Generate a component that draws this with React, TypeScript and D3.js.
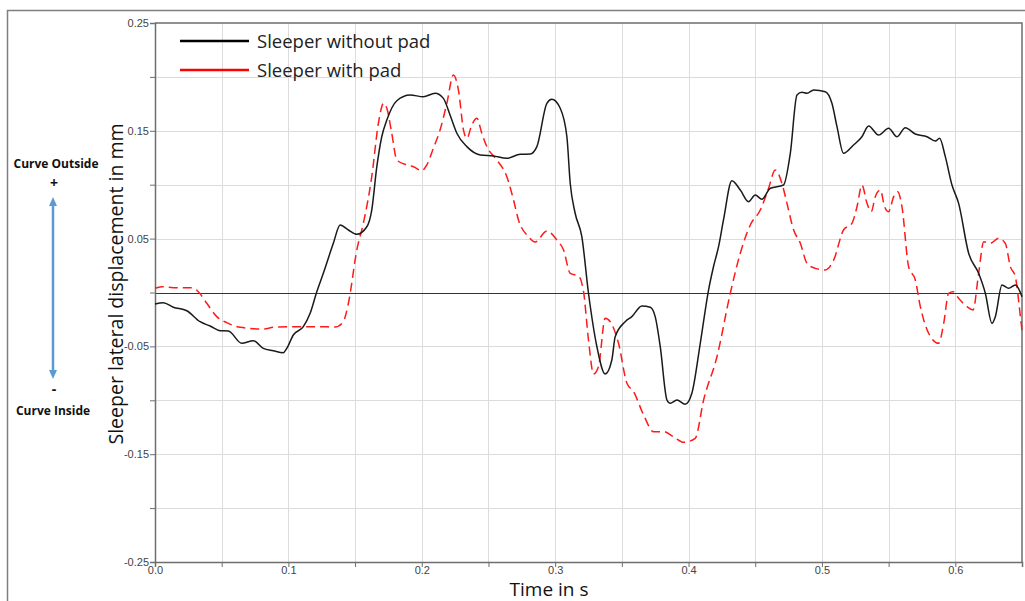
import React, { useEffect, useRef } from "react";
import * as d3 from "d3";

const width = 1025;
const height = 601;
const margin = { top: 23, right: 3, bottom: 39, left: 155 };

// time in s
const timeWithout = [
  0, 0.0062, 0.0137, 0.0238, 0.0338, 0.0413, 0.0488, 0.055, 0.065, 0.0737, 0.0812, 0.0887, 0.0962, 0.0988,
  0.1037, 0.1112, 0.1163, 0.1213, 0.1262, 0.1337, 0.1388, 0.145, 0.1513, 0.1588, 0.1625, 0.1663, 0.17,
  0.1738, 0.1813, 0.1913, 0.2012, 0.21, 0.2162, 0.2212, 0.2263, 0.2338, 0.2438, 0.2537, 0.2638, 0.2738,
  0.2813, 0.2863, 0.2938, 0.2975, 0.3038, 0.3088, 0.3113, 0.315, 0.32, 0.325, 0.3313, 0.3375, 0.3425,
  0.345, 0.3525, 0.3575, 0.365, 0.3713, 0.375, 0.3788, 0.3838, 0.3863, 0.3913, 0.3975, 0.4025, 0.4088,
  0.415, 0.4187, 0.4225, 0.4262, 0.4325, 0.4388, 0.445, 0.45, 0.455, 0.4613, 0.4712, 0.4763, 0.4813,
  0.485, 0.4888, 0.4938, 0.5025, 0.5075, 0.5113, 0.5162, 0.5237, 0.53, 0.535, 0.5425, 0.55, 0.5563,
  0.5625, 0.57, 0.5788, 0.585, 0.5882, 0.5925, 0.5975, 0.6025, 0.61, 0.6175, 0.6225, 0.6275, 0.63,
  0.635, 0.64, 0.645, 0.65,
];
// displacement in mm
const sleeperWithout = [
  -0.0107, -0.0095, -0.0137, -0.0169, -0.0271, -0.0311, -0.0354, -0.0357, -0.0471, -0.0447, -0.0518,
  -0.054, -0.0558, -0.0518, -0.0394, -0.0317, -0.0193, 0.0007, 0.0178, 0.0456, 0.0626, 0.058, 0.054,
  0.061, 0.0765, 0.1167, 0.1445, 0.16, 0.1779, 0.1832, 0.1816, 0.1848, 0.1801, 0.1647, 0.1477, 0.1353,
  0.1276, 0.1266, 0.1245, 0.1282, 0.1285, 0.1353, 0.1755, 0.1792, 0.1709, 0.1445, 0.1013, 0.0735,
  0.0518, -0.0007, -0.0503, -0.0756, -0.0626, -0.041, -0.0271, -0.0224, -0.0125, -0.0137, -0.0224,
  -0.0503, -0.0997, -0.1028, -0.0997, -0.1037, -0.0935, -0.0471, 0.0023, 0.0239, 0.0425, 0.0673,
  0.1037, 0.0951, 0.0842, 0.0904, 0.0865, 0.0967, 0.0997, 0.1291, 0.1832, 0.1857, 0.1848, 0.1879,
  0.1863, 0.1755, 0.1538, 0.1291, 0.1368, 0.1445, 0.1545, 0.1461, 0.1523, 0.1445, 0.1529, 0.147,
  0.1445, 0.1405, 0.143, 0.126, 0.0997, 0.0827, 0.0364, 0.0178, -0.0007, -0.0286, -0.0224, 0.007,
  0.0039, 0.007, -0.0039,
];

const timeWith = [
  0, 0.005, 0.0137, 0.0275, 0.0325, 0.0388, 0.0463, 0.0538, 0.0638, 0.0812, 0.0887, 0.1037, 0.1237,
  0.135, 0.141, 0.145, 0.1513, 0.1562, 0.1625, 0.1675, 0.1713, 0.1738, 0.1775, 0.1813, 0.1888, 0.1938,
  0.2, 0.2038, 0.2087, 0.2137, 0.2188, 0.2237, 0.2275, 0.2313, 0.2338, 0.2375, 0.2413, 0.245, 0.2488,
  0.2563, 0.2638, 0.2688, 0.2725, 0.28, 0.285, 0.2938, 0.3013, 0.3063, 0.3113, 0.3175, 0.3213, 0.325,
  0.3288, 0.3325, 0.3375, 0.3413, 0.3475, 0.3538, 0.3588, 0.3663, 0.3738, 0.3813, 0.3888, 0.3963,
  0.405, 0.4113, 0.4213, 0.4313, 0.4388, 0.4463, 0.4538, 0.46, 0.465, 0.47, 0.4738, 0.4788, 0.4838,
  0.4888, 0.495, 0.5025, 0.5088, 0.5162, 0.5225, 0.5263, 0.53, 0.5338, 0.537, 0.54, 0.5438, 0.547,
  0.55, 0.5538, 0.5568, 0.56, 0.565, 0.57, 0.5738, 0.58, 0.5875, 0.5913, 0.595, 0.5983, 0.6025,
  0.6088, 0.6133, 0.6175, 0.6213, 0.6263, 0.6325, 0.6375, 0.6413, 0.645, 0.6488, 0.65,
];
const sleeperWith = [
  0.0039, 0.0054, 0.0045, 0.0045, 0.0007, -0.01, -0.0224, -0.028, -0.0323, -0.0339, -0.0323, -0.0317,
  -0.0317, -0.032, -0.0274, -0.01, 0.0394, 0.0642, 0.1074, 0.157, 0.1755, 0.1709, 0.1477, 0.1229,
  0.1183, 0.1167, 0.113, 0.1183, 0.1338, 0.1507, 0.1755, 0.2018, 0.1878, 0.1507, 0.143, 0.1554, 0.1616,
  0.1477, 0.1353, 0.1229, 0.1074, 0.0858, 0.0673, 0.0518, 0.0468, 0.057, 0.0487, 0.0394, 0.0178,
  0.0153, 0.0007, -0.0441, -0.0756, -0.0688, -0.0239, -0.0271, -0.0471, -0.0842, -0.092, -0.1136,
  -0.1291, -0.1291, -0.1338, -0.139, -0.1353, -0.0997, -0.0596, -0.0007, 0.0364, 0.0626, 0.0765,
  0.0967, 0.1137, 0.1013, 0.0827, 0.058, 0.0456, 0.0271, 0.0224, 0.0209, 0.0301, 0.058, 0.0642,
  0.0796, 0.0997, 0.0827, 0.075, 0.0889, 0.0951, 0.0796, 0.075, 0.0889, 0.0935, 0.0796, 0.0239,
  0.0116, -0.0132, -0.0378, -0.0471, -0.0286, -0.0007, 0.0007, -0.0054, -0.0132, -0.0162, 0.0178,
  0.0471, 0.0456, 0.0503, 0.0456, 0.0239, 0.0147, -0.0224, -0.035,
];

const yTicks = [0.25, 0.2, 0.15, 0.1, 0.05, 0, -0.05, -0.1, -0.15, -0.2, -0.25];
const yLabelled = [0.25, 0.15, 0.05, -0.05, -0.15, -0.25];
const xTicks = [0, 0.05, 0.1, 0.15, 0.2, 0.25, 0.3, 0.35, 0.4, 0.45, 0.5, 0.55, 0.6];
const xLabelled = [0, 0.1, 0.2, 0.3, 0.4, 0.5, 0.6];

const seriesNames = ["Sleeper without pad", "Sleeper with pad"];

function App() {
  const ref = useRef<SVGSVGElement | null>(null);

  useEffect(() => {
    const svg = d3.select(ref.current);
    svg.selectAll("*").remove();

    const x = d3.scaleLinear().domain([0, 0.65]).range([margin.left, width - margin.right]);
    const y = d3.scaleLinear().domain([-0.25, 0.25]).range([height - margin.bottom, margin.top]);

    // outer frame
    svg.append("rect")
      .attr("x", 7.5).attr("y", 10.5)
      .attr("width", 1030).attr("height", 600)
      .attr("fill", "none").attr("stroke", "#7f7f7f").attr("stroke-width", 1.5);

    // grid
    const grid = svg.append("g").attr("stroke", "#dcdcdc").attr("stroke-width", 1);
    grid.selectAll(".gx").data(xTicks.slice(1)).enter().append("line")
      .attr("x1", d => Math.round(x(d)) + 0.5).attr("x2", d => Math.round(x(d)) + 0.5)
      .attr("y1", y(0.25)).attr("y2", y(-0.25));
    grid.selectAll(".gy").data(yTicks.filter(d => d !== 0.25 && d !== -0.25)).enter().append("line")
      .attr("y1", d => Math.round(y(d)) + 0.5).attr("y2", d => Math.round(y(d)) + 0.5)
      .attr("x1", x(0)).attr("x2", x(0.65));

    // zero line
    svg.append("line")
      .attr("x1", x(0)).attr("x2", x(0.65))
      .attr("y1", Math.round(y(0)) + 0.5).attr("y2", Math.round(y(0)) + 0.5)
      .attr("stroke", "#333").attr("stroke-width", 1);

    // axes (plain hyphen for negatives, like the original)
    const fmt = (p: number) => (v: number) => v.toFixed(p);
    const tickFont = "Liberation Sans, Arial, sans-serif";
    const yAxis = svg.append("g")
      .attr("transform", `translate(${x(0)},0)`)
      .call(d3.axisLeft(y).tickValues(yTicks).tickSize(5).tickPadding(1)
        .tickFormat(d => (yLabelled.includes(+d) ? fmt(2)(+d) : "")));
    yAxis.select(".domain").attr("stroke", "#6e6e6e").attr("stroke-width", 1.5);
    yAxis.selectAll(".tick line").attr("stroke", "#6e6e6e");
    yAxis.selectAll("text").attr("fill", "#444").style("font-family", tickFont).style("font-size", "11px");

    const xAxis = svg.append("g")
      .attr("transform", `translate(0,${y(-0.25)})`)
      .call(d3.axisBottom(x).tickValues(xTicks).tickSize(5).tickPadding(-1)
        .tickFormat(d => (xLabelled.includes(+d) ? fmt(1)(+d) : "")));
    xAxis.select(".domain").attr("stroke", "#6e6e6e").attr("stroke-width", 1.5);
    xAxis.selectAll(".tick line").attr("stroke", "#6e6e6e");
    xAxis.selectAll("text").attr("fill", "#444").style("font-family", tickFont).style("font-size", "11px");

    // right and top border
    svg.append("path")
      .attr("d", `M${x(0)},${y(0.25)}H${x(0.65)}V${y(-0.25)}`)
      .attr("fill", "none").attr("stroke", "#6e6e6e").attr("stroke-width", 1.5);

    const line = d3.line<[number, number]>()
      .x(d => x(d[0]))
      .y(d => y(d[1]))
      .curve(d3.curveMonotoneX);

    const redData = timeWith.map((t, i) => [t, sleeperWith[i]] as [number, number]);
    const blackData = timeWithout.map((t, i) => [t, sleeperWithout[i]] as [number, number]);

    svg.append("path")
      .datum(redData)
      .attr("fill", "none")
      .attr("stroke", "#ff1a1a")
      .attr("stroke-width", 1.5)
      .attr("stroke-dasharray", "9,5")
      .attr("d", line);

    svg.append("path")
      .datum(blackData)
      .attr("fill", "none")
      .attr("stroke", "#1a1a1a")
      .attr("stroke-width", 1.5)
      .attr("stroke-linejoin", "round")
      .attr("d", line);

    // legend
    const labelFont = "Open Sans, Noto Sans, sans-serif";
    const legend = svg.append("g");
    const colors = ["#000", "#ff0000"];
    seriesNames.forEach((name, i) => {
      const ly = 41 + i * 29;
      legend.append("line")
        .attr("x1", 180).attr("x2", 249).attr("y1", ly).attr("y2", ly)
        .attr("stroke", colors[i]).attr("stroke-width", 2.5);
      legend.append("text")
        .attr("x", 257).attr("y", ly + 7)
        .attr("fill", "#222")
        .style("font-family", labelFont).style("font-size", "18.5px")
        .text(name);
    });

    // axis titles
    svg.append("text")
      .attr("x", 549).attr("y", 596)
      .attr("text-anchor", "middle")
      .attr("fill", "#111")
      .style("font-family", labelFont).style("font-size", "19px")
      .text("Time in s");

    svg.append("text")
      .attr("transform", `translate(123,${284}) rotate(-90)`)
      .attr("text-anchor", "middle")
      .attr("fill", "#111")
      .style("font-family", labelFont).style("font-size", "19.5px")
      .text("Sleeper lateral displacement in mm");

    // curve side annotation
    const ann = svg.append("g")
      .attr("text-anchor", "middle")
      .attr("fill", "#111")
      .style("font-family", labelFont)
      .style("font-weight", "bold")
      .style("font-size", "12px");
    ann.append("text").attr("x", 56).attr("y", 168).text("Curve Outside");
    ann.append("text").attr("x", 54).attr("y", 188).style("font-size", "14px").text("+");
    ann.append("text").attr("x", 54).attr("y", 394).style("font-size", "14px").text("-");
    ann.append("text").attr("x", 53).attr("y", 415).text("Curve Inside");

    const ax = 53;
    svg.append("line")
      .attr("x1", ax).attr("x2", ax).attr("y1", 204).attr("y2", 372)
      .attr("stroke", "#5b9bd5").attr("stroke-width", 2.5);
    svg.append("path")
      .attr("d", `M${ax},197 L${ax - 4},206 L${ax + 4},206 Z M${ax},379 L${ax - 4},370 L${ax + 4},370 Z`)
      .attr("fill", "#5b9bd5");
  }, []);

  return (
    <div style={{ position: "absolute", left: 0, top: 0 }}>
      <svg width={width} height={height} ref={ref} style={{ display: "block" }} />
    </div>
  );
}

export default App;
